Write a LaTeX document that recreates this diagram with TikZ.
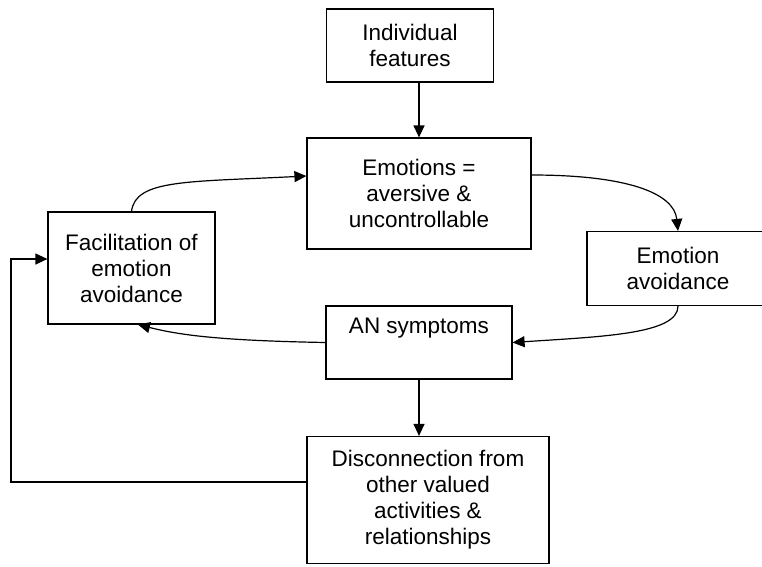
\documentclass[tikz,border=0pt]{standalone}
\usepackage{fontspec}
\setmainfont{Liberation Sans}
\usetikzlibrary{arrows.meta}

\begin{document}
\begin{tikzpicture}[x=1pt,y=-1pt,line width=1.2pt,>={Triangle[length=12pt,width=11pt]},
    box/.style={draw,align=center,inner sep=0pt,font=\fontsize{22.5}{26}\selectfont}]
    \useasboundingbox (0,0) rectangle (762,566);
    \node[box,minimum width=167,minimum height=73] (feat) at (410,45.5)
      {Individual\\features};
    \node[box,minimum width=224,minimum height=111] (emo) at (419,193.5)
      {Emotions =\\aversive \&\\uncontrollable};
    \node[box,minimum width=167,minimum height=112] (facil) at (131.5,268)
      {Facilitation of\\emotion\\avoidance};
    \node[box,minimum width=182,minimum height=74] (avoid) at (678,268.5)
      {Emotion\\avoidance};
    \node[box,minimum width=186,minimum height=73] (symp) at (419,342.5)
      {AN symptoms\\\strut};
    \node[box,minimum width=242,minimum height=127] (disc) at (428,500)
      {Disconnection from\\other valued\\activities \&\\relationships};
    \coordinate (loop) at (11,482);
    \draw[->] (emo.north |- feat.south) -- (emo.north);
    \draw[->] (symp.south) -- (symp.south |- disc.north);
    \draw[->] (facil.north) .. controls +(4,-32) and +(-120,6) .. ([yshift=17.5pt]emo.west);
    \draw[->] ([yshift=18.5pt]emo.east) .. controls +(95,0) and +(-4,-38) .. (avoid.north);
    \draw[->] (avoid.south) .. controls +(0,28) and +(90,-6) .. (symp.east);
    \draw[->] (symp.west) .. controls +(-110,-2) and +(40,10) .. ([xshift=6.5pt]facil.south);
    \draw[->] ([yshift=18pt]disc.west) -- (loop) |- ([yshift=9pt]facil.west);
\end{tikzpicture}
\end{document}
